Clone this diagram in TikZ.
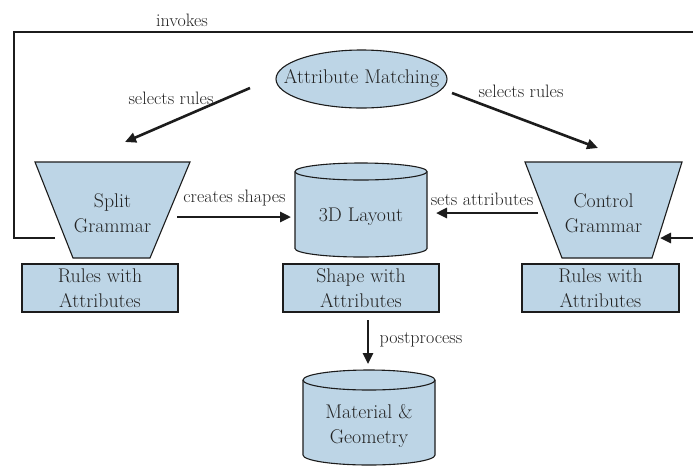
\documentclass[tikz,border=0pt]{standalone}
\usetikzlibrary{calc,arrows.meta,backgrounds}
\definecolor{boxfill}{RGB}{189,213,230}
\definecolor{ink}{RGB}{28,28,28}
\definecolor{txt}{RGB}{35,35,35}
\begin{document}
\begin{tikzpicture}[x=1pt,y=-1pt,
  shapebody/.style={fill=boxfill,draw=ink,line width=1.1pt,line join=miter},
  nodetext/.style={text=txt,font=\fontsize{19.8}{25}\selectfont,align=center,inner sep=0pt},
  rulebox/.style={shapebody,nodetext,minimum width=156pt,minimum height=48pt},
  lbl/.style={text=txt,font=\fontsize{18}{21}\selectfont,inner sep=0pt},
  arr/.style={draw=ink,line width=2.6pt,-{Triangle[length=11pt,width=10pt]}},
  plainline/.style={draw=ink,line width=2.6pt}
  ]
\useasboundingbox (0,0) rectangle (693,467);
\clip (0,0) rectangle (693,467);

% nodes (text)
\node[nodetext,minimum width=171pt,minimum height=58pt] (match) at (361.5,79) {Attribute Matching};
\node[nodetext,minimum width=155pt,minimum height=96pt] (split) at (112.5,213) {Split\\Grammar};
\node[nodetext,minimum width=157pt,minimum height=96pt] (control) at (603.5,213) {Control\\Grammar};
\node[nodetext,minimum width=132pt,minimum height=94pt] (layout) at (361,217) {3D Layout};
\node[nodetext,minimum width=132pt,minimum height=95pt] (material) at (369,426) {Material \&\\Geometry};

\node[rulebox] (rulesL) at (100,288) {Rules with\\Attributes};
\node[rulebox] (shapes) at (361,288) {Shape with\\Attributes};
\node[rulebox,minimum width=157pt] (rulesR) at (600.5,288) {Rules with\\Attributes};

% shapes behind the text
\begin{scope}[on background layer]
  \draw[shapebody] (match.center) ellipse[x radius=85.5pt, y radius=29pt];
  \draw[shapebody] ($(split)+(-77.5,-51)$) -- ($(split)+(77.5,-51)$) -- ($(split)+(37.5,45)$) -- ($(split)+(-39.5,45)$) -- cycle;
  \draw[shapebody] ($(control)+(-78.5,-51)$) -- ($(control)+(78.5,-51)$) -- ($(control)+(48.5,45)$) -- ($(control)+(-41.5,45)$) -- cycle;
  % 3D Layout cylinder
  \draw[shapebody] ($(layout)+(-66,-45.5)$) -- ($(layout)+(-66,31.5)$)
     arc[start angle=180,end angle=360,x radius=66pt,y radius=8.5pt]
     -- ($(layout)+(66,-45.5)$)
     arc[start angle=0,end angle=180,x radius=66pt,y radius=8.5pt] -- cycle;
  \draw[shapebody,fill=none] ($(layout)+(-66,-45.5)$) arc[start angle=180,end angle=360,x radius=66pt,y radius=8.5pt];
  % Material cylinder
  \draw[shapebody] ($(material)+(-66,-46)$) -- ($(material)+(-66,29)$)
     arc[start angle=180,end angle=360,x radius=66pt,y radius=10pt]
     -- ($(material)+(66,-46)$)
     arc[start angle=0,end angle=180,x radius=66pt,y radius=10pt] -- cycle;
  \draw[shapebody,fill=none] ($(material)+(-66,-46)$) arc[start angle=180,end angle=360,x radius=66pt,y radius=10pt];
\end{scope}

% connectors
\draw[arr] ($(match)+(-111.5,9)$) -- ($(split)+(12.5,-71)$);
\draw[arr] ($(match)+(90.5,14)$) -- ($(control)+(-5.5,-65)$);
\draw[arr] ($(split)+(64.5,4)$) -- ($(layout)+(-70,0)$);
\draw[arr] ($(control)+(-65.5,0)$) -- ($(layout)+(75,-4)$);
\draw[arr] ($(shapes)+(7,32)$) -- ($(material)+(-1,-62)$);

\coordinate (invL) at ($(split)+(-57.5,25)$);
\coordinate (invR) at ($(control)+(56.5,25)$);
\draw[plainline] (invL) -- (14,238) -- (14,32) -- (710,32) -- (710,238) -- (700,238);
\draw[arr] (700,238) -- (invR);

% labels
\node[lbl] (linvokes) at (182,20) {invokes};
\node[lbl] (lselL) at (171,98) {selects rules};
\node[lbl] (lselR) at (521,91) {selects rules};
\node[lbl] (lcreates) at (234.5,198) {creates shapes};
\node[lbl] (lsets) at (482,199) {sets attributes};
\node[lbl] (lpost) at (421,339.5) {postprocess};
\end{tikzpicture}
\end{document}
